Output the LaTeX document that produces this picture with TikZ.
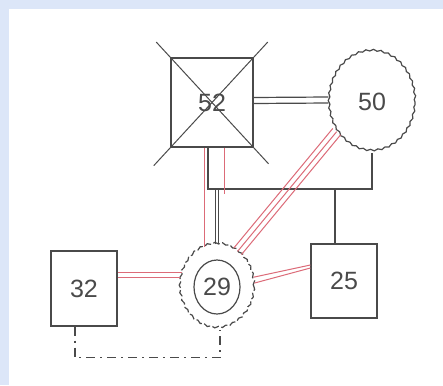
\documentclass[tikz,border=0pt]{standalone}
\usepackage{fontspec}
\setmainfont{Liberation Sans}
\usetikzlibrary{calc,shapes.geometric,decorations.pathmorphing}
\definecolor{frame}{HTML}{DCE6F8}
\definecolor{ink}{HTML}{4A4A4A}
\definecolor{link}{HTML}{DC6B78}

\begin{document}
\begin{tikzpicture}[x=1pt,y=-1pt,
  box/.style={draw=ink,line width=1.2pt,text=ink,inner sep=0pt,font=\fontsize{25}{28}\selectfont},
  wavy/.style={decorate,decoration={snake,amplitude=0.8pt,segment length=7.5pt}},
  wire/.style={draw=ink,line width=1.2pt},
  redwire/.style={draw=link,line width=1pt},
  linkdash/.style={wire,dash pattern=on 9pt off 5pt on 2pt off 5pt}]
  % Background
  \fill[frame] (0,0) rectangle (443,385);
  \fill[white] (9,9) rectangle (443,385);
  % Units
  \node[box,minimum width=82pt,minimum height=89pt] (sq52) at (212,102.5) {52};
  \node[box,ellipse,wavy,minimum width=86pt,minimum height=100pt] (c50) at (372,102) {50};
  \node[box,ellipse,wavy,dash pattern=on 7pt off 2.5pt,minimum width=74pt,minimum height=84pt] (c29) at (217,287) {};
  \node[box,ellipse,minimum width=46pt,minimum height=54pt] (c29in) at (c29) {29};
  \node[box,minimum width=66pt,minimum height=75pt] (b32) at (84,288.5) {32};
  \node[box,minimum width=66pt,minimum height=74pt] (b25) at (344,281) {25};
  % Cross over 52
  \draw[wire,line width=1pt] ($(sq52.north west)!-0.17!(sq52.south east)$) -- ($(sq52.north west)!1.18!(sq52.south east)$);
  \draw[wire,line width=1pt] ($(sq52.north east)!-0.17!(sq52.south west)$) -- ($(sq52.north east)!1.2!(sq52.south west)$);
  % 52 -- 50
  \draw[wire] ([yshift=5pt]sq52.east) -- ([yshift=5pt]c50.west);
  \draw[wire] ([yshift=-1pt]sq52.east) -- ([yshift=-1pt]c50.west);
  % Bus
  \coordinate (busL) at (208,189);
  \coordinate (busR) at (372,189);
  \draw[wire] ([xshift=-4pt]sq52.south) -- (busL) -- (busR) -- (c50.south);
  \draw[wire] ([xshift=-9pt]b25.north) -- ([xshift=-9pt]b25.north |- busL);
  \foreach \dx in {-1.5,1.5}
    \draw[wire] ([xshift=\dx pt]c29.north) -- ([xshift=\dx pt]c29.north |- busL);
  % Red links
  \draw[redwire] (c29.107) -- (c29.107 |- sq52.south);
  \draw[redwire] ([xshift=12pt]sq52.south) -- ++(0,46);
  \foreach \d in {-1,0,1}
    \draw[redwire] ($(c29.60)+(\d*3.9,\d*3.2)$) -- ($(c50.220)+(\d*3.9,\d*3.2)$);
  \draw[redwire] (c29.15) -- ($(b25.west)+(0,-16)$);
  \draw[redwire] (c29.6) -- ($(b25.west)+(0,-13)$);
  \draw[redwire] (c29.158) -- (c29.158 -| b32.east);
  \draw[redwire] (c29.166) -- (c29.166 -| b32.east);
  % 32 -- 29
  \draw[linkdash] ([xshift=-9pt]b32.south) -- ++(0,31) -| ([xshift=3pt]c29.south);
\end{tikzpicture}
\end{document}
